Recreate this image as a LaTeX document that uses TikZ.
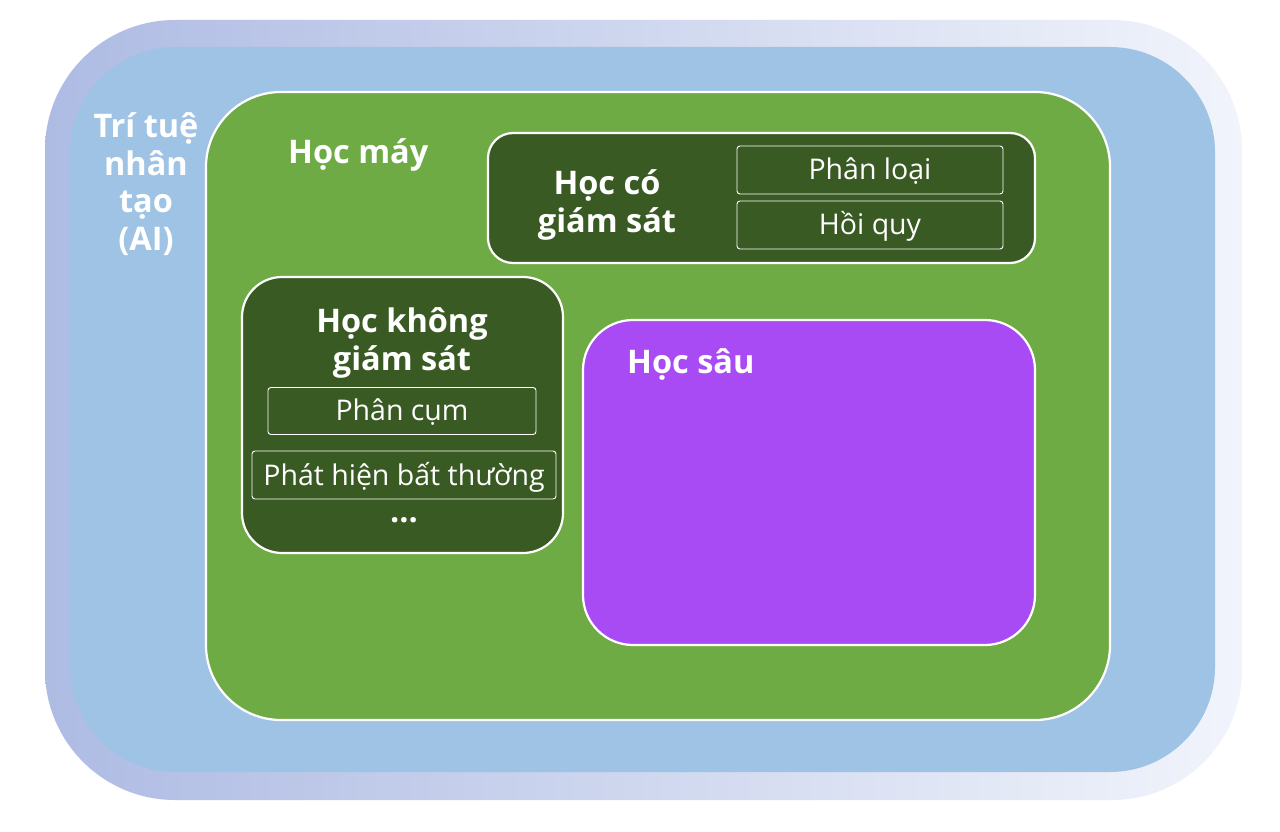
\documentclass[tikz,border=0pt]{standalone}
\usepackage{fontspec}
\setmainfont{Open Sans}
\definecolor{frameL}{HTML}{AEBBE3}
\definecolor{frameR}{HTML}{F1F4FB}
\definecolor{aiblue}{HTML}{9FC3E5}
\definecolor{mlgreen}{HTML}{6FAB45}
\definecolor{dkgreen}{HTML}{3A5A24}
\definecolor{dlpurple}{HTML}{A94BF5}
\tikzset{
  region/.style={draw=white, line width=2.2pt, rounded corners=#1},
  region/.default=30pt,
  subbox/.style={draw=white, line width=0.9pt, fill=dkgreen, inner sep=0pt, rounded corners=3pt},
  titletext/.style={text=white, font=\bfseries\fontsize{32.5}{37.5}\selectfont, align=center, inner sep=0pt},
  itemtext/.style={text=white, font=\fontsize{28.5}{32}\selectfont, inner sep=0pt},
}
\begin{document}
\begin{tikzpicture}[x=1pt,y=-1pt]
\useasboundingbox (0,0) rectangle (1280,832);
\fill[white] (0,0) rectangle (1280,832);
% outer pale frame
\shade[left color=frameL, right color=frameR, rounded corners=130pt] (45,20) rectangle (1242,800);
% AI region
\fill[aiblue, rounded corners=105pt] (70,47) rectangle (1215,772);
\node[titletext] (ai) at (146,184) {Trí tuệ\\nhân\\tạo\\(AI)};
% ML region
\draw[region=75pt, fill=mlgreen] (206,92) rectangle (1110,720);
\node[titletext, anchor=west] (ml) at (288,155) {Học máy};
% supervised
\draw[region=25pt, fill=dkgreen] (488,133) rectangle (1035,263);
\node[titletext] (sup) at (607,205) {Học có\\giám sát};
\node[subbox, minimum width=266pt, minimum height=48pt] (cls) at (870,170) {};
\node[itemtext] (clst) at (870,171) {Phân loại};
\node[subbox, minimum width=266pt, minimum height=48pt] (reg) at (870,225) {};
\node[itemtext] (regt) at (870,226) {Hồi quy};
% unsupervised
\draw[region=40pt, fill=dkgreen] (242,277) rectangle (563,553);
\node[titletext] (uns) at (402,343) {Học không\\giám sát};
\node[subbox, minimum width=268pt, minimum height=47pt] (clu) at (402,411) {};
\node[itemtext] (clut) at (402,412) {Phân cụm};
\node[subbox, minimum width=304pt, minimum height=48pt] (ano) at (404,475) {};
\node[itemtext] (anot) at (404,477) {Phát hiện bất thường};
\node[titletext] (dots) at (404,520) {...};
% deep learning
\draw[region=50pt, fill=dlpurple] (583,320) rectangle (1035,645);
\node[titletext, anchor=west] (dl) at (627,364) {Học sâu};
\end{tikzpicture}
\end{document}
